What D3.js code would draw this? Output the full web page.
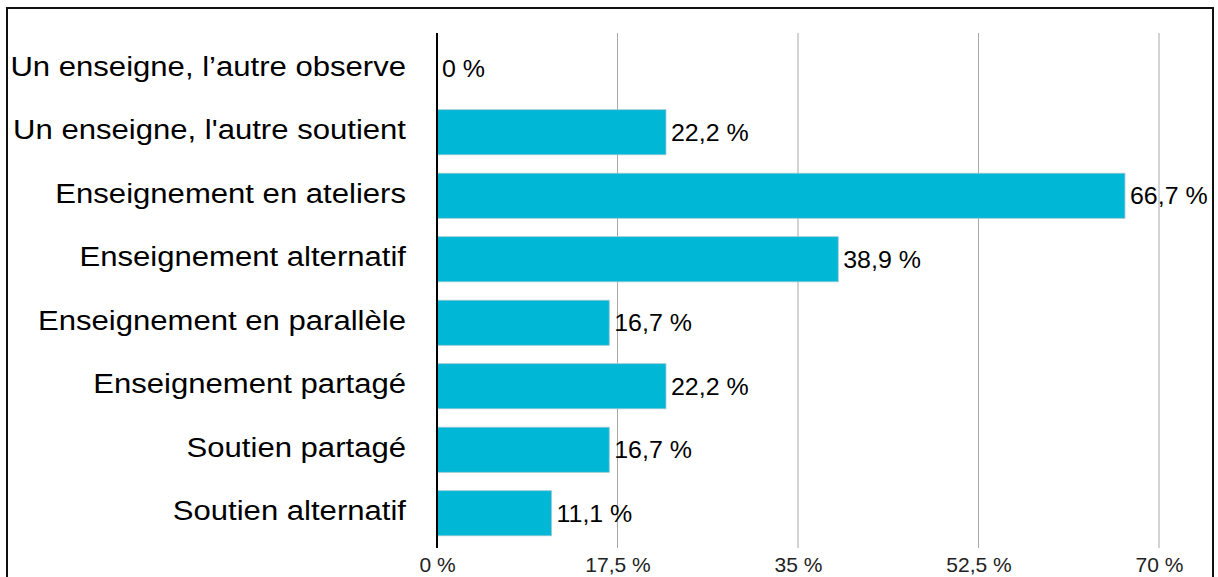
<!DOCTYPE html>
<html>
<head>
<meta charset="utf-8">
<script src="https://cdn.jsdelivr.net/npm/d3@7"></script>
<style>
  html, body { margin: 0; padding: 0; background: #fff; }
  svg { display: block; }
</style>
</head>
<body>
<svg id="chart" width="1218" height="577"></svg>
<script>
const categories = [
  "Un enseigne, l’autre observe",
  "Un enseigne, l'autre soutient",
  "Enseignement en ateliers",
  "Enseignement alternatif",
  "Enseignement en parallèle",
  "Enseignement partagé",
  "Soutien partagé",
  "Soutien alternatif"
];
const values = [0, 22.2, 66.7, 38.9, 16.7, 22.2, 16.7, 11.1];
const tickValues = [0, 17.5, 35, 52.5, 70];
const tickLabels = ["0 %", "17,5 %", "35 %", "52,5 %", "70 %"];

const svg = d3.select("#chart");
const font = "'Liberation Sans', Arial, Helvetica, sans-serif";

// frame
svg.append("rect")
  .attr("x", 7).attr("y", 8)
  .attr("width", 1206).attr("height", 600)
  .attr("fill", "none").attr("stroke", "#111").attr("stroke-width", 2);

const x = d3.scaleLinear().domain([0, 70]).range([437, 1159]);
const y = d3.scaleBand().domain(categories).range([37, 545]).paddingInner(0.29).paddingOuter(0.145);

const gridTop = 33, gridBottom = 548;

// gridlines
svg.append("g").selectAll("line")
  .data(tickValues.filter(d => d > 0))
  .join("line")
  .attr("x1", d => x(d)).attr("x2", d => x(d))
  .attr("y1", gridTop).attr("y2", gridBottom)
  .attr("stroke", "#a8a8a8").attr("stroke-width", 1);

// x axis labels
const xAxis = d3.axisBottom(x)
  .tickValues(tickValues)
  .tickFormat((d, i) => tickLabels[i])
  .tickSize(0).tickPadding(0);
const gx = svg.append("g").attr("transform", "translate(0,572)").call(xAxis);
gx.select(".domain").remove();
gx.selectAll("text")
  .attr("font-family", font).attr("font-size", 21).attr("fill", "#222")
  .attr("y", 0).attr("dy", 0);

// bars
svg.append("g").selectAll("rect")
  .data(values)
  .join("rect")
  .attr("x", x(0))
  .attr("y", (d, i) => y(categories[i]))
  .attr("width", d => x(d) - x(0))
  .attr("height", y.bandwidth())
  .attr("fill", "#00B7D6")
  .attr("stroke", d => d > 0 ? "#9cc7d2" : "none")
  .attr("stroke-width", 0.8);

// zero axis line
svg.append("line")
  .attr("x1", x(0)).attr("x2", x(0))
  .attr("y1", gridTop).attr("y2", gridBottom)
  .attr("stroke", "#000").attr("stroke-width", 2);

// y axis labels
const yAxis = d3.axisLeft(y).tickSize(0).tickPadding(0);
const gy = svg.append("g").attr("transform", "translate(406,0)").call(yAxis);
gy.select(".domain").remove();
gy.selectAll(".tick").each(function() {
  const t = d3.select(this);
  const tr = t.attr("transform");
  t.attr("transform", tr + " translate(0,7) scale(1.11,1)");
});
gy.selectAll("text")
  .attr("font-family", font).attr("font-size", 28).attr("fill", "#000")
  .attr("dy", 0);

// value labels
svg.append("g").selectAll("text")
  .data(values)
  .join("text")
  .attr("transform", (d, i) => `translate(${x(d) + 5},${y(categories[i]) + y.bandwidth() / 2 + 8.5}) scale(1.04,1)`)
  .attr("font-family", font).attr("font-size", 24).attr("fill", "#000")
  .text(d => d3.format(".1f")(d).replace(".", ",").replace(/,0$/, "") + " %");
</script>
</body>
</html>
